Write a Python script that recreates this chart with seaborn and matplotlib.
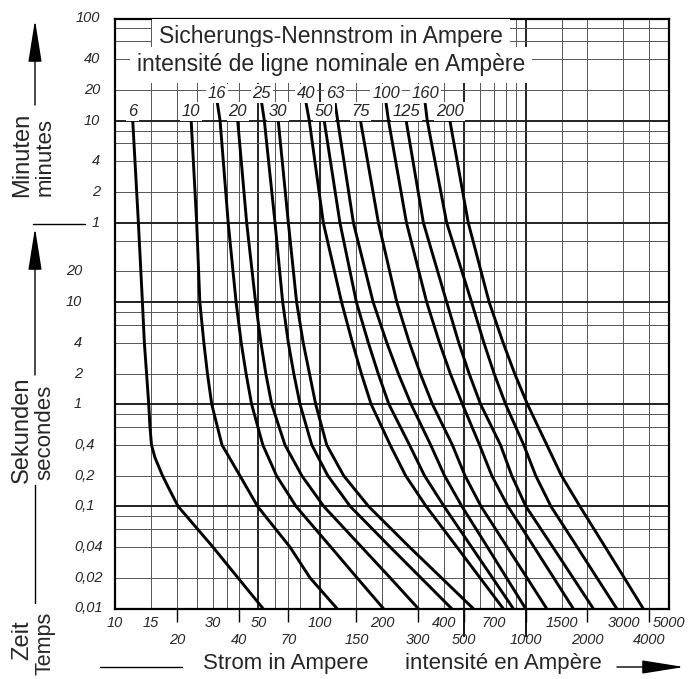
import matplotlib.pyplot as plt
import pandas as pd
import seaborn as sns
from matplotlib.ticker import NullLocator

sns.set_style("white")
plt.rcParams["font.family"] = ["Liberation Sans", "DejaVu Sans"]

W, H = 692, 679

# fuse ratings (A) and the trip curves: time (s) -> current (A)
ratings = [6, 10, 16, 20, 25, 30, 40, 50, 63, 75, 100, 125, 160, 200]

# curves labelled in the lower row start at 10 min, the upper-row ones a bit higher
t_low = [600, 60, 10, 4, 2, 1, 0.4, 0.2, 0.1, 0.04, 0.02, 0.01]
t_up = [900, 600, 60, 10, 4, 2, 1, 0.4, 0.2, 0.1, 0.04, 0.02, 0.01]
t_6 = [600, 60, 10, 4, 2, 1, 0.6, 0.4, 0.3, 0.2, 0.15, 0.1, 0.04, 0.02, 0.01]

i_6 = [12.2, 13.0, 13.6, 13.9, 14.25, 14.6, 14.8, 15.06, 15.66, 17.04, 18.3, 20.3, 30.0,
       39.7, 52.6]
i_10 = [23.5, 25.0, 25.9, 27.1, 28.2, 29.6, 33.2, 40.6, 49.5, 71.2, 89.1, 120.6]
i_16 = [31.5, 32.5, 35.6, 38.9, 41.2, 43.5, 46.3, 52.5, 61.2, 76.2, 112.6, 151, 203]
i_20 = [39.6, 43.8, 48.4, 51.4, 54.3, 58.0, 67.3, 81.3, 104, 159, 219, 300]
i_25 = [51.8, 53.4, 60.2, 65.6, 69.9, 74.3, 79.7, 90.9, 108.8, 140, 219, 309, 436]
i_30 = [62.4, 69.9, 76.7, 82.6, 88.6, 95.0, 107.5, 130, 172, 272, 389, 556]
i_40 = [85.2, 88.4, 103.5, 127, 143.5, 158.5, 177, 219, 260.6, 328, 463, 600, 778]
i_50 = [104.5, 124.7, 150, 171.5, 191.5, 216, 272, 322, 401, 546, 690, 871]
i_63 = [118, 121.6, 145, 181, 211, 240, 277, 345, 403, 490, 652, 808, 1000]
i_75 = [157, 192, 236, 272, 307, 352, 440, 507, 607, 814, 1016, 1267]
i_100 = [209, 215, 263, 330, 381, 430, 493, 597, 685, 821, 1100, 1371, 1707]
i_125 = [262, 318, 413, 473, 531, 604, 755, 857, 1004, 1358, 1704, 2137]
i_160 = [324, 332, 413, 546, 627, 703, 800, 980, 1121, 1330, 1785, 2227, 2779]
i_200 = [428, 526, 665, 778, 885, 1022, 1270, 1496, 1841, 2444, 3026, 3741]

curve_t = [t_6, t_low, t_up, t_low, t_up, t_low, t_up, t_low, t_up, t_low, t_up,
           t_low, t_up, t_low]
curve_i = [i_6, i_10, i_16, i_20, i_25, i_30, i_40, i_50, i_63, i_75, i_100, i_125,
           i_160, i_200]

# grid
vgrid_thin = [15, 20, 25, 30, 35, 40, 60, 70, 80, 150, 200, 300, 400, 600, 700, 800, 900,
              1500, 2000, 3000, 4000]
vgrid_thick = [50, 100, 500, 1000]
hgrid_thin = [0.02, 0.04, 0.06, 0.08, 0.2, 0.4, 0.6, 0.8, 2, 4, 6, 8, 20, 40,
              120, 240, 360, 480, 1200, 2400, 3600, 4800]
hgrid_thick = [0.1, 1, 10, 60, 600]

# axis labels (x in two rows, y split into seconds / minutes)
x_row1 = [10, 15, 30, 50, 100, 200, 400, 700, 1500, 3000, 5000]
x_row2 = [20, 40, 70, 150, 300, 500, 1000, 2000, 4000]
x_long = [500, 1000]
y_dec = [0.01, 0.02, 0.04, 0.1, 0.2, 0.4]
y_dec_lab = ["0,01", "0,02", "0,04", "0,1", "0,2", "0,4"]
y_sec = [1, 2, 4, 10, 20]
y_min = [60, 120, 240, 600, 1200, 2400, 6000]
y_min_lab = ["1", "2", "4", "10", "20", "40", "100"]

rows = []
for r, ts, cs in zip(ratings, curve_t, curve_i):
    for t, c in zip(ts, cs):
        rows.append({"nenn": r, "strom": c, "zeit": t})
df = pd.DataFrame(rows)


def fx(px):  # figure pixel -> axes fraction (x)
    return (px - 115) / 554


def fy(py):
    return (608.5 - py) / 590


def fig_pt(x, y):
    return (x / W, 1 - y / H)


fig = plt.figure(figsize=(W / 100, H / 100), dpi=100)
ax = fig.add_axes([115 / W, 1 - 608.5 / H, 554 / W, 590 / H])
ax.set_xscale("log")
ax.set_yscale("log")
ax.set_xlim(10, 5000)
ax.set_ylim(0.01, 6000)

for v in vgrid_thin:
    ax.axvline(v, color="#555555", lw=0.7, zorder=1)
for v in vgrid_thick:
    ax.axvline(v, color="#222222", lw=1.4, zorder=1)
for h in hgrid_thin:
    ax.axhline(h, color="#555555", lw=0.7, zorder=1)
for h in hgrid_thick:
    ax.axhline(h, color="#222222", lw=1.4, zorder=1)

sns.lineplot(data=df, x="strom", y="zeit", units="nenn", estimator=None, sort=False,
             color="black", lw=2.1, ax=ax, zorder=2)
ax.set_xlabel("")
ax.set_ylabel("")

for r, ts, cs in zip(ratings, curve_t, curve_i):
    ax.annotate(str(r), xy=(cs[0], ts[0]), xytext=(0, 6.5), textcoords="offset points",
                ha="center", va="center", fontsize=12, fontstyle="italic", zorder=4,
                bbox=dict(fc="white", ec="none", boxstyle="square,pad=0.1"))

ax.text(0.39, fy(37), "Sicherungs-Nennstrom in Ampere", transform=ax.transAxes,
        ha="center", va="center", fontsize=16.5, zorder=3,
        bbox=dict(fc="white", ec="none", boxstyle="square,pad=0.3"))
ax.text(0.39, fy(65), "intensité de ligne nominale en Ampère", transform=ax.transAxes,
        ha="center", va="center", fontsize=16.5, zorder=3,
        bbox=dict(fc="white", ec="none", boxstyle="square,pad=0.3"))

for s in ax.spines.values():
    s.set_linewidth(1.6)
    s.set_color("black")

ax.xaxis.set_minor_locator(NullLocator())
ax.yaxis.set_minor_locator(NullLocator())
ax.set_xticks([])
ax.set_yticks(y_dec + y_sec + y_min)
ax.set_yticklabels([])
ax.tick_params(axis="y", length=5, width=1.2, direction="out", color="black")

xt = ax.get_xaxis_transform()
yt = ax.get_yaxis_transform()
ax.vlines(x_row2, fy(622), 0, transform=xt, colors="black", lw=1, clip_on=False)
ax.vlines(x_long, fy(637), 0, transform=xt, colors="black", lw=1.3, clip_on=False)
for v in x_row1:
    ax.text(v, fy(623), str(v), transform=xt, ha="center", va="center",
            fontsize=10.5, fontstyle="italic")
for v in x_row2:
    ax.text(v, fy(640), str(v), transform=xt, ha="center", va="center",
            fontsize=10.5, fontstyle="italic")

for v, lab in zip(y_dec, y_dec_lab):
    ax.text(fx(74), v, lab, transform=yt, ha="left", va="center", fontsize=10.5,
            fontstyle="italic")
for v in y_sec:
    ax.text(fx(82), v, str(v), transform=yt, ha="right", va="center", fontsize=10.5,
            fontstyle="italic")
for v, lab in zip(y_min, y_min_lab):
    ax.text(fx(100), v, lab, transform=yt, ha="right", va="center", fontsize=10.5,
            fontstyle="italic")

# side captions and arrows
fig.text(*fig_pt(22, 155), "Minuten", rotation=90, ha="center", va="center", fontsize=17)
fig.text(*fig_pt(45, 157), "minutes", rotation=90, ha="center", va="center", fontsize=16)
fig.text(*fig_pt(22, 430), "Sekunden", rotation=90, ha="center", va="center", fontsize=17)
fig.text(*fig_pt(45, 432), "secondes", rotation=90, ha="center", va="center", fontsize=16)
fig.text(*fig_pt(22, 640), "Zeit", rotation=90, ha="center", va="center", fontsize=17)
fig.text(*fig_pt(45, 643), "Temps", rotation=90, ha="center", va="center", fontsize=15.5)
fig.text(*fig_pt(203, 663), "Strom in Ampere", ha="left", va="center", fontsize=16)
fig.text(*fig_pt(405, 663), "intensité en Ampère", ha="left", va="center", fontsize=16)

arrow = dict(arrowstyle="-|>,head_length=2.2,head_width=0.35", color="black", lw=1,
             mutation_scale=12, shrinkA=0, shrinkB=0)
fig.add_artist(plt.Annotation("", xy=fig_pt(35, 20), xytext=fig_pt(35, 105),
                              xycoords="figure fraction", arrowprops=arrow))
fig.add_artist(plt.Annotation("", xy=fig_pt(35, 228), xytext=fig_pt(35, 375),
                              xycoords="figure fraction", arrowprops=arrow))
fig.add_artist(plt.Annotation("", xy=fig_pt(684, 667), xytext=fig_pt(617, 667),
                              xycoords="figure fraction", arrowprops=arrow))
for (x0, y0), (x1, y1) in [((35, 485), (35, 603)), ((33, 224), (85, 224)),
                           ((100, 667), (182, 667))]:
    p0, p1 = fig_pt(x0, y0), fig_pt(x1, y1)
    fig.add_artist(plt.Line2D([p0[0], p1[0]], [p0[1], p1[1]], color="black", lw=1))

fig.savefig("out.png", dpi=100)
